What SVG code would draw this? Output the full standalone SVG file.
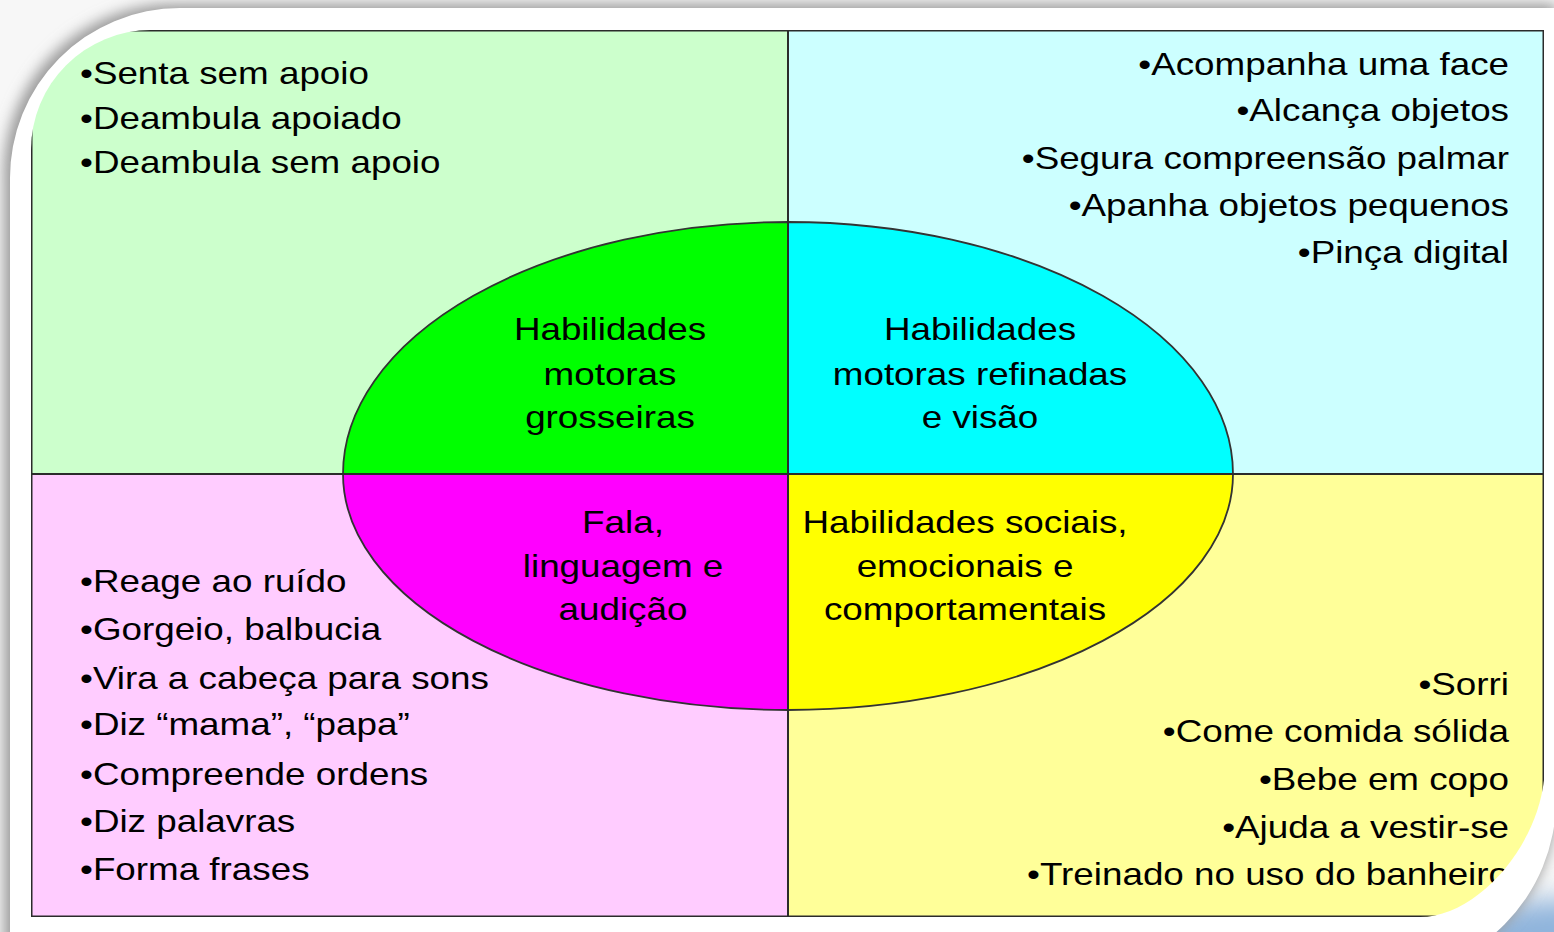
<svg xmlns="http://www.w3.org/2000/svg" width="1554" height="932" viewBox="0 0 1554 932">
  <defs>
    <filter id="blur" x="-10%" y="-10%" width="120%" height="120%">
      <feGaussianBlur stdDeviation="7"/>
    </filter>
    <filter id="blurBig" x="-50%" y="-50%" width="200%" height="200%">
      <feGaussianBlur stdDeviation="14"/>
    </filter>
    <clipPath id="panel">
      <path d="M151 30 H1544 V780 C1536 850 1475 917 1420 917 H31 V150 A120 120 0 0 1 151 30 Z"/>
    </clipPath>
    <style>
      text { font-family: "Liberation Sans", Arial, sans-serif; font-size: 32px; fill: #000; }
      .end { text-anchor: end; }
      .mid { text-anchor: middle; }
      .edge { stroke: #2b2b2b; stroke-width: 2; fill: none; }
      .oval { stroke: #333; stroke-width: 1.8; }
    </style>
  </defs>

  <!-- background and frame -->
  <rect x="0" y="0" width="1554" height="932" fill="#f7f7f7"/>
  <ellipse cx="1560" cy="960" rx="120" ry="60" fill="#8fb4dc" filter="url(#blurBig)"/>
  <path d="M4 182 A170 170 0 0 1 174 4 H1556 V800 A176 176 0 0 1 1380 976 H4 Z" fill="#9a9a9a" filter="url(#blur)"/>
  <path d="M10 180 A170 170 0 0 1 180 8 H1556 V800 A176 176 0 0 1 1380 976 H10 Z" fill="#ffffff"/>

  <g clip-path="url(#panel)">
    <g id="quad-tl"><rect x="31" y="30" width="757" height="444" fill="#CCFFCC"/></g>
    <g id="quad-tr"><rect x="788" y="30" width="756" height="444" fill="#CCFFFF"/></g>
    <g id="quad-bl"><rect x="31" y="474" width="757" height="443" fill="#FFCCFF"/></g>
    <g id="quad-br"><rect x="788" y="474" width="756" height="443" fill="#FFFF99"/></g>

    <!-- ellipse halves -->
    <g id="oval-green"><path class="oval" d="M343 474 A445 252 0 0 1 788 222 V474 Z" fill="#00FF00"/></g>
    <g id="oval-cyan"><path class="oval" d="M788 222 A445 252 0 0 1 1233 474 H788 Z" fill="#00FFFF"/></g>
    <g id="oval-magenta"><path class="oval" d="M343 474 H788 V710 A445 236 0 0 1 343 474 Z" fill="#FF00FF"/></g>
    <g id="oval-yellow"><path class="oval" d="M788 474 H1233 A445 236 0 0 1 788 710 Z" fill="#FFFF00"/></g>

    <g id="connectors">
      <line class="edge" x1="788" y1="30" x2="788" y2="917"/>
      <line class="edge" x1="31" y1="474" x2="1544" y2="474"/>
      <rect x="31" y="30" width="1513" height="887" fill="none" stroke="#2b2b2b" stroke-width="3"/>
    </g>

    <!-- quadrant lists -->
    <g id="list-tl" transform="translate(80,0) scale(1.15,1)">
      <text x="0" y="84">•Senta sem apoio</text>
      <text x="0" y="129">•Deambula apoiado</text>
      <text x="0" y="173">•Deambula sem apoio</text>
    </g>
    <g id="list-tr" transform="translate(1509,0) scale(1.15,1)">
      <text class="end" x="0" y="75">•Acompanha uma face</text>
      <text class="end" x="0" y="121">•Alcança objetos</text>
      <text class="end" x="0" y="169">•Segura compreensão palmar</text>
      <text class="end" x="0" y="216">•Apanha objetos pequenos</text>
      <text class="end" x="0" y="263">•Pinça digital</text>
    </g>
    <g id="list-bl" transform="translate(80,0) scale(1.15,1)">
      <text x="0" y="592">•Reage ao ruído</text>
      <text x="0" y="640">•Gorgeio, balbucia</text>
      <text x="0" y="689">•Vira a cabeça para sons</text>
      <text x="0" y="735">•Diz “mama”, “papa”</text>
      <text x="0" y="785">•Compreende ordens</text>
      <text x="0" y="832">•Diz palavras</text>
      <text x="0" y="880">•Forma frases</text>
    </g>
    <g id="list-br" transform="translate(1509,0) scale(1.15,1)">
      <text class="end" x="0" y="695">•Sorri</text>
      <text class="end" x="0" y="742">•Come comida sólida</text>
      <text class="end" x="0" y="790">•Bebe em copo</text>
      <text class="end" x="0" y="838">•Ajuda a vestir-se</text>
      <text class="end" x="0" y="885">•Treinado no uso do banheiro</text>
    </g>

    <!-- centre labels -->
    <g id="label-green" transform="translate(610,0) scale(1.15,1)">
      <text class="mid" x="0" y="340">Habilidades</text>
      <text class="mid" x="0" y="385">motoras</text>
      <text class="mid" x="0" y="428">grosseiras</text>
    </g>
    <g id="label-cyan" transform="translate(980,0) scale(1.15,1)">
      <text class="mid" x="0" y="340">Habilidades</text>
      <text class="mid" x="0" y="385">motoras refinadas</text>
      <text class="mid" x="0" y="428">e visão</text>
    </g>
    <g id="label-magenta" transform="translate(623,0) scale(1.15,1)">
      <text class="mid" x="0" y="533">Fala,</text>
      <text class="mid" x="0" y="577">linguagem e</text>
      <text class="mid" x="0" y="620">audição</text>
    </g>
    <g id="label-yellow" transform="translate(965,0) scale(1.15,1)">
      <text class="mid" x="0" y="533">Habilidades sociais,</text>
      <text class="mid" x="0" y="577">emocionais e</text>
      <text class="mid" x="0" y="620">comportamentais</text>
    </g>
  </g>
</svg>
